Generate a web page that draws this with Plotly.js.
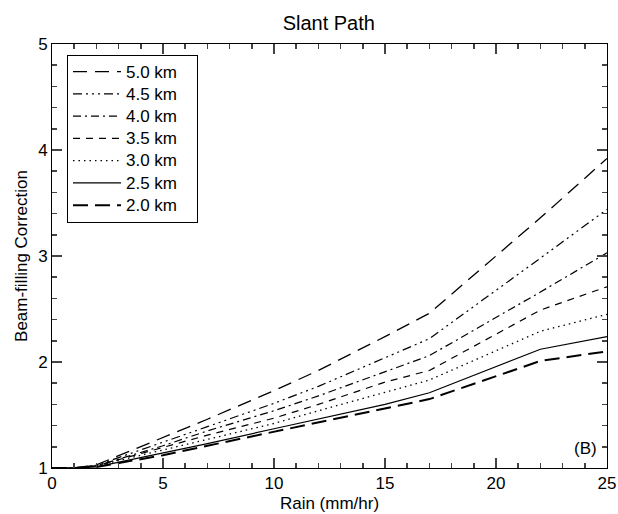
<!DOCTYPE html>
<html>
<head>
<meta charset="utf-8">
<script src="https://cdn.plot.ly/plotly-3.0.1.min.js"></script>
<style>html,body{margin:0;padding:0;background:#fff;}#chart{width:618px;height:514px;}</style>
</head>
<body>
<div id="chart"></div>
<script>
const rain = [0, 1, 2, 5, 7, 10, 12, 15, 17, 22, 25];
const labels = ["5.0 km", "4.5 km", "4.0 km", "3.5 km", "3.0 km", "2.5 km", "2.0 km"];
const h50 = [1.00, 1.00, 1.03, 1.29, 1.46, 1.73, 1.92, 2.24, 2.46, 3.36, 3.92];
const h45 = [1.00, 1.00, 1.025, 1.24, 1.39, 1.61, 1.77, 2.04, 2.22, 2.98, 3.44];
const h40 = [1.00, 1.00, 1.02, 1.21, 1.35, 1.54, 1.68, 1.91, 2.06, 2.66, 3.03];
const h35 = [1.00, 1.00, 1.02, 1.19, 1.31, 1.47, 1.60, 1.81, 1.92, 2.49, 2.71];
const h30 = [1.00, 1.00, 1.02, 1.17, 1.27, 1.42, 1.54, 1.71, 1.83, 2.29, 2.45];
const h25 = [1.00, 1.00, 1.01, 1.14, 1.23, 1.37, 1.46, 1.60, 1.71, 2.12, 2.24];
const h20 = [1.00, 1.00, 1.01, 1.12, 1.21, 1.34, 1.43, 1.56, 1.65, 2.01, 2.10];
const series = [h50, h45, h40, h35, h30, h25, h20];
const styles = [
  {dash: "14px,8px", width: 1.3},
  {dash: "9px,4px,2px,4px,2px,4px,2px,4px", width: 1.2},
  {dash: "8px,4px,2px,4px", width: 1.2},
  {dash: "7px,6px", width: 1.2},
  {dash: "1.5px,4px", width: 1.3},
  {dash: "solid", width: 1.2},
  {dash: "15px,7px", width: 2}
];
const traces = series.map((ys, i) => ({
  x: rain, y: ys, type: "scatter", mode: "lines",
  name: '<span style="font-size:17px">' + labels[i] + '&nbsp;&nbsp;&nbsp;</span>',
  line: {color: "#000", width: styles[i].width, dash: styles[i].dash}
}));
const fontFam = "Liberation Sans, Arial, sans-serif";
const tickCol = "#444";
const layout = {
  width: 618, height: 514,
  margin: {l: 52, r: 11, t: 44, b: 46},
  paper_bgcolor: "#fff", plot_bgcolor: "#fff",
  font: {family: fontFam, color: "#000", size: 17},
  title: {text: "Slant Path", font: {size: 20, family: fontFam}, x: 0.532, xanchor: "center", y: 0.955, yanchor: "middle"},
  showlegend: true,
  legend: {x: 0.027, y: 0.975, xanchor: "left", yanchor: "top", bgcolor: "#fff",
           bordercolor: "#000", borderwidth: 1, font: {size: 14.8, family: fontFam},
           traceorder: "normal", itemwidth: 48},
  xaxis: {range: [0, 25], tickmode: "linear", tick0: 0, dtick: 5,
          ticks: "inside", ticklen: 10, tickcolor: tickCol, tickwidth: 1.5,
          showline: true, linecolor: "#000", linewidth: 1, mirror: "allticks",
          showgrid: false, zeroline: false,
          tickfont: {size: 17, family: fontFam},
          minor: {dtick: 1, ticks: "inside", ticklen: 5, tickcolor: tickCol, tickwidth: 1.5},
          title: {text: "Rain (mm/hr)", font: {size: 17, family: fontFam}, standoff: 4}},
  yaxis: {range: [1, 5], tickmode: "linear", tick0: 1, dtick: 1,
          ticks: "inside", ticklen: 10, tickcolor: tickCol, tickwidth: 1.5,
          showline: true, linecolor: "#000", linewidth: 1, mirror: "ticks",
          showgrid: false, zeroline: false,
          tickfont: {size: 17, family: fontFam},
          minor: {dtick: 0.2, ticks: "inside", ticklen: 5, tickcolor: tickCol, tickwidth: 1.5},
          title: {text: "Beam-filling Correction", font: {size: 17, family: fontFam}, standoff: 6}},
  annotations: [{text: "(B)", xref: "paper", yref: "paper", x: 0.985, y: 0.02,
                 xanchor: "right", yanchor: "bottom", showarrow: false,
                 font: {size: 17, family: fontFam}}]
};
Plotly.newPlot("chart", traces, layout, {displayModeBar: false, staticPlot: true});
</script>
</body>
</html>
